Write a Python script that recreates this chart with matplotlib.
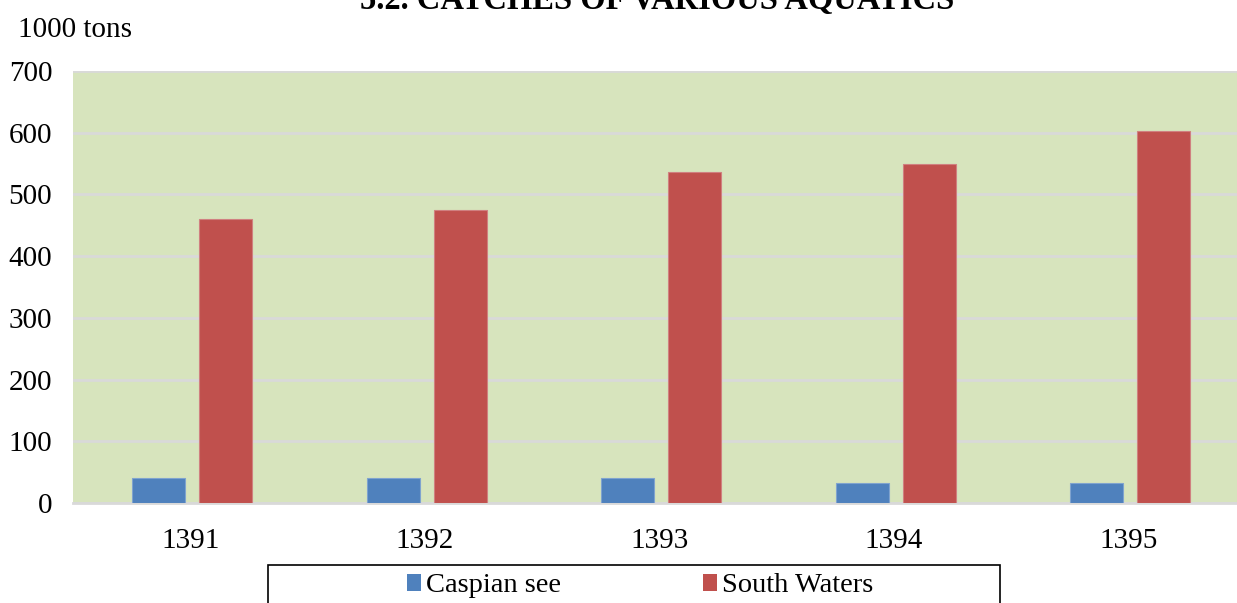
import matplotlib
matplotlib.use("Agg")
import matplotlib.pyplot as plt
import numpy as np
from matplotlib.patches import Rectangle, Patch

years = ["1391", "1392", "1393", "1394", "1395"]
caspian = [41, 41, 40, 32, 33]
south = [460, 475, 536, 550, 602]
yticks = [0, 100, 200, 300, 400, 500, 600, 700]

plt.rcParams['font.family'] = ['Liberation Serif', 'DejaVu Serif']

W, H = 1237, 603
fig = plt.figure(figsize=(W/100, H/100), dpi=100)
ax = fig.add_axes([73/W, 1-503/H, 1172.5/W, (503-71)/H])
ax.set_facecolor('#D7E4BD')

x = np.arange(len(years))
bw = 0.226
ax.bar(x - 0.135, caspian, bw, color='#4F81BD', edgecolor='#7FA3CF', linewidth=0.8, zorder=3, label='Caspian see')
ax.bar(x + 0.151, south, bw, color='#C0504D', edgecolor='#D08080', linewidth=0.8, zorder=3, label='South Waters')

ax.set_xlim(-0.5, len(years) - 0.5)
ax.set_ylim(0, 700)
ax.set_yticks(yticks)
ax.set_yticklabels([str(v) for v in yticks])
ax.set_xticks(x)
ax.set_xticklabels(years)
ax.yaxis.grid(True, color='#D9D9D9', linewidth=2, zorder=1)
ax.set_axisbelow(True)
for s in ['left', 'right', 'top']:
    ax.spines[s].set_visible(False)
ax.spines['bottom'].set_color('#D9D9D9')
ax.spines['bottom'].set_linewidth(2)
ax.tick_params(axis='both', length=0, labelsize=21)
ax.tick_params(axis='y', pad=15)
ax.tick_params(axis='x', pad=18)

fig.text(657/W, 1-9/H, "5.2. CATCHES OF VARIOUS AQUATICS", ha='center', va='baseline',
         fontsize=23.5, fontweight='bold')
fig.text(18/W, 1-37/H, "1000 tons", ha='left', va='baseline', fontsize=21)

# legend frame
fig.patches.append(Rectangle((268/W, -0.05), (1000-268)/W, (603-565)/H + 0.05,
                             transform=fig.transFigure, facecolor='white',
                             edgecolor='black', linewidth=1.2, zorder=0))
handles = [Patch(facecolor='#4F81BD', edgecolor='none'), Patch(facecolor='#C0504D', edgecolor='none')]
fig.legend(handles, ['Caspian see', 'South Waters'], loc='center', bbox_to_anchor=(640/W, 1-586/H),
           ncol=2, frameon=False, fontsize=20.5, handlelength=0.5, handleheight=0.5,
           handletextpad=0.15, columnspacing=5.0, borderaxespad=0)

fig.savefig("out.png", dpi=100)
